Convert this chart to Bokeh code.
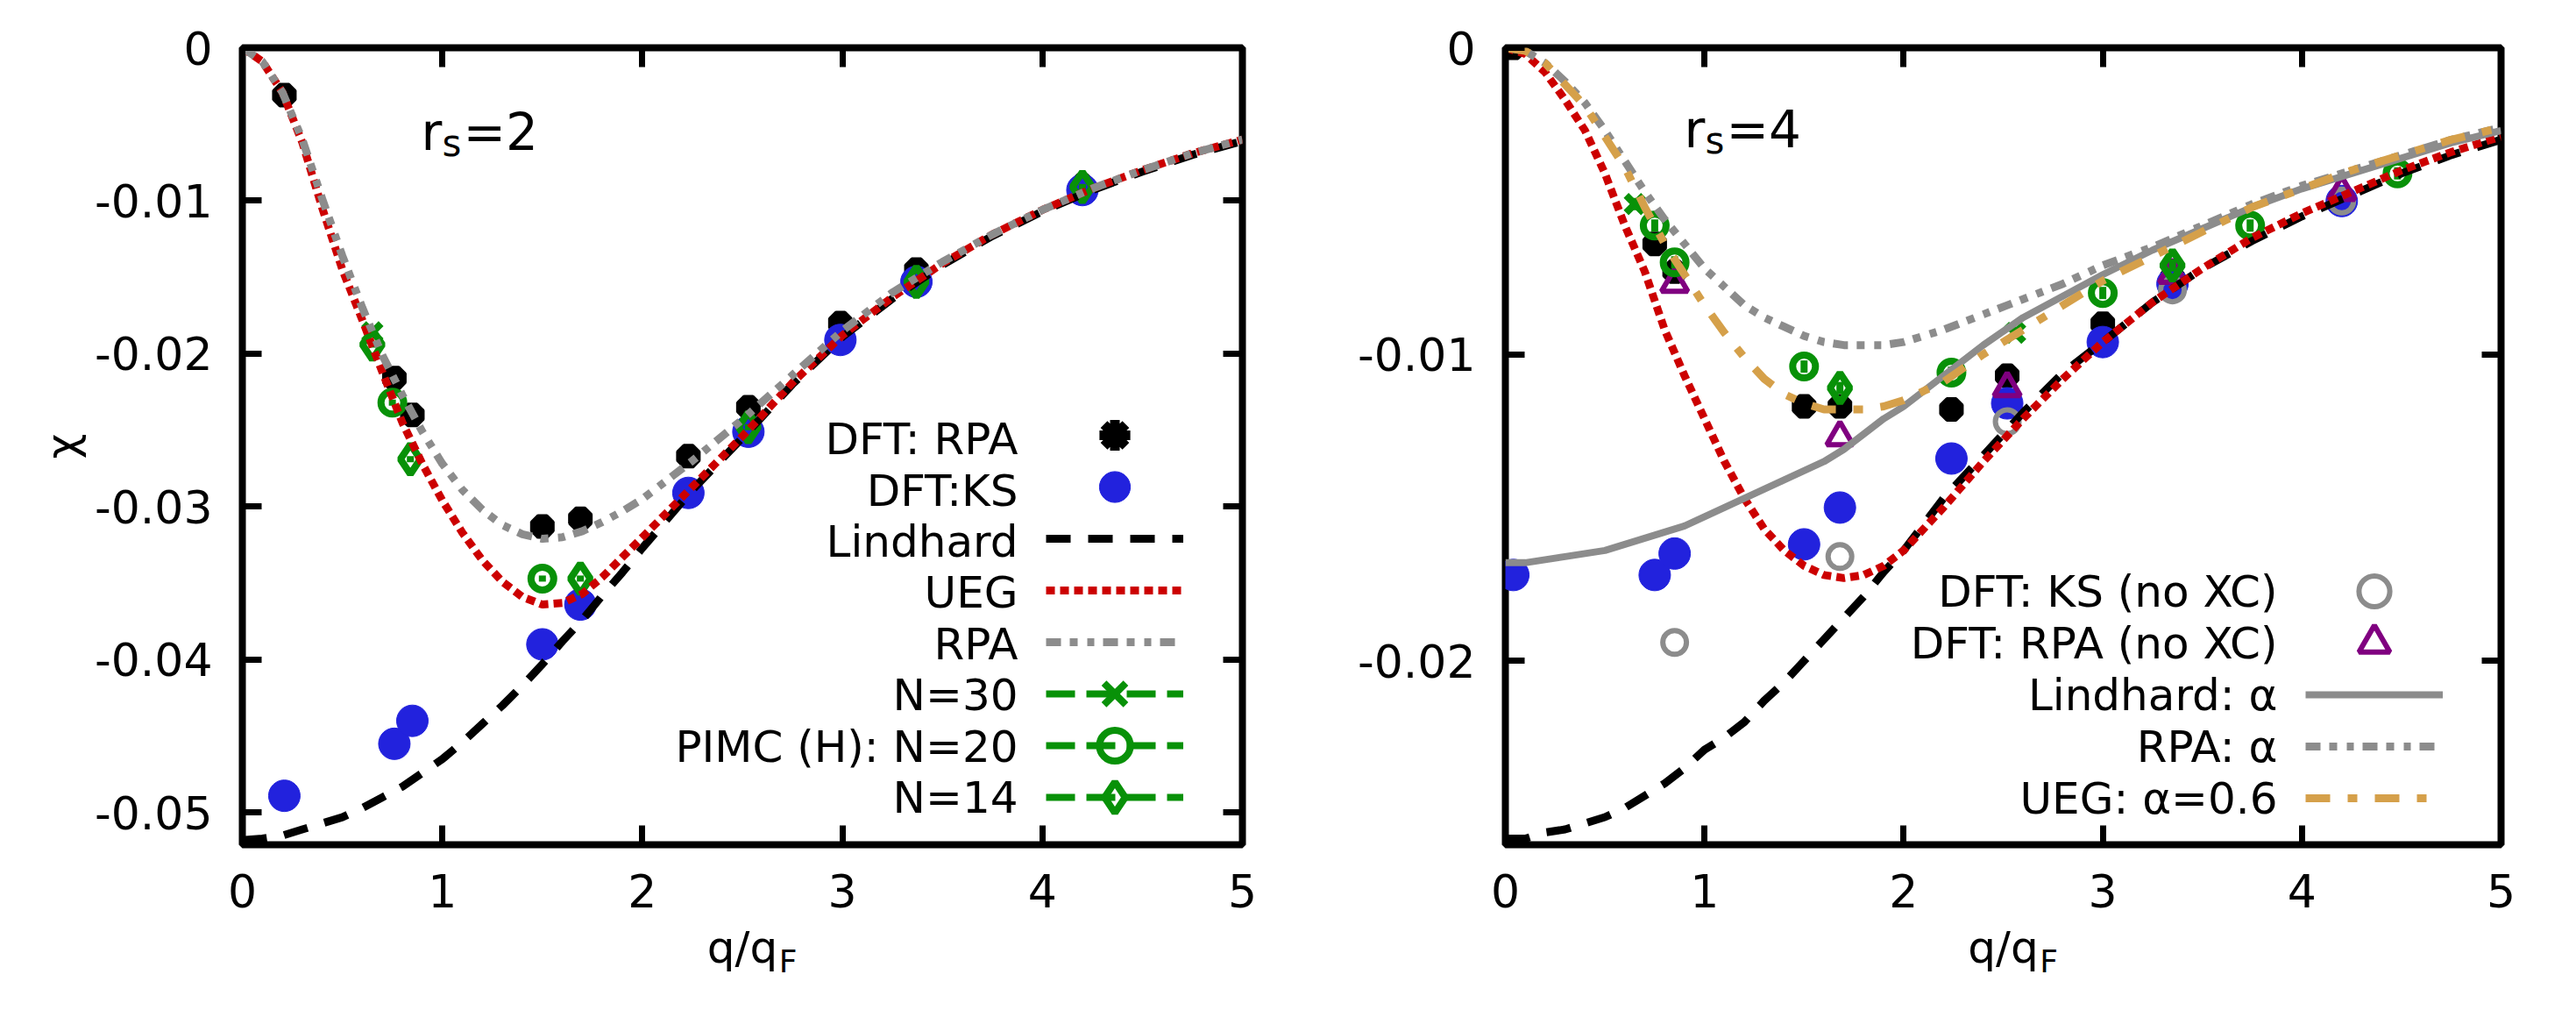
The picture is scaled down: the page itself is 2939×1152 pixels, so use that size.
import math
from bokeh.plotting import figure
from bokeh.models import (Range1d, LinearAxis, FixedTicker, Legend, LegendItem, Label, Title,
                          CustomJSTickFormatter)
from bokeh.layouts import row
from bokeh.embed import file_html
from bokeh.resources import INLINE
from bokeh.core.properties import value

FONT = "DejaVu Sans"

# ======================= r_s = 2 (left panel) =======================
q_curve_rs2 = [0, 0.1, 0.2, 0.3, 0.4, 0.5, 0.6, 0.7, 0.8, 0.9, 1.0, 1.1, 1.2, 1.3, 1.4, 1.5,
               1.6, 1.7, 1.8, 1.9, 2.0, 2.25, 2.5, 2.75, 3.0, 3.25, 3.5, 3.75, 4.0, 4.25, 4.5, 4.75, 5.0]
lindhard_rs2 = [-0.0518, -0.0517, -0.0515, -0.0511, -0.0507, -0.0503, -0.0497, -0.0490, -0.0483, -0.0474,
                -0.0465, -0.0454, -0.0442, -0.0430, -0.0417, -0.0403, -0.0388, -0.0374, -0.0358, -0.0343,
                -0.0327, -0.0289, -0.0255, -0.0220, -0.0189, -0.0164, -0.0142, -0.0123, -0.0107, -0.0093,
                -0.0081, -0.0070, -0.0061]
ueg_rs2 = [0.0, -0.0009, -0.0029, -0.0062, -0.0105, -0.0145, -0.0178, -0.0212, -0.0245, -0.0272,
           -0.0296, -0.0317, -0.0335, -0.0349, -0.0359, -0.0364, -0.0363, -0.0357, -0.0346, -0.0333,
           -0.0320, -0.0287, -0.0254, -0.0219, -0.0188, -0.0163, -0.0141, -0.0122, -0.0106, -0.0092,
           -0.0080, -0.0069, -0.0060]
rpa_rs2 = [0.0, -0.0009, -0.0029, -0.0060, -0.0099, -0.0136, -0.0170, -0.0201, -0.0227, -0.0251,
           -0.0272, -0.0289, -0.0302, -0.0312, -0.0318, -0.0321, -0.0320, -0.0316, -0.0310, -0.0303,
           -0.0295, -0.0270, -0.0243, -0.0214, -0.0185, -0.0160, -0.0140, -0.0122, -0.0106, -0.0092,
           -0.0080, -0.0069, -0.0060]

q_dft_rs2 = [0.21, 0.76, 0.85, 1.50, 1.69, 2.23, 2.53, 2.99, 3.37, 4.20]
dft_rpa_rs2 = [-0.0031, -0.0216, -0.0240, -0.0313, -0.0308, -0.0267, -0.0235, -0.0180, -0.0145, -0.0090]
dft_ks_rs2 = [-0.0489, -0.0455, -0.0440, -0.0390, -0.0364, -0.0291, -0.0251, -0.0191, -0.0153, -0.0093]

q_n30_rs2 = [0.65]
pimc_n30_rs2 = [-0.0186]
q_n20_rs2 = [0.75, 1.50]
pimc_n20_rs2 = [-0.0232, -0.0347]
q_n14_rs2 = [0.65, 0.84, 1.69, 2.53, 3.37, 4.20]
pimc_n14_rs2 = [-0.0194, -0.0269, -0.0347, -0.0248, -0.0153, -0.0091]
pimc_err = 0.0002

# ======================= r_s = 4 (right panel) =======================
q_curve_rs4 = [0, 0.1, 0.2, 0.3, 0.4, 0.5, 0.6, 0.7, 0.8, 0.9, 1.0, 1.1, 1.2, 1.3, 1.4, 1.5, 1.6,
               1.7, 1.8, 1.9, 2.0, 2.2, 2.4, 2.6, 2.8, 3.0, 3.25, 3.5, 3.75, 4.0, 4.25, 4.5, 4.75, 5.0]
lindhard_rs4 = [-0.0258, -0.0258, -0.0256, -0.0255, -0.0253, -0.0251, -0.0248, -0.0244, -0.0240, -0.0235,
                -0.0229, -0.0225, -0.0220, -0.0213, -0.0207, -0.0200, -0.0193, -0.0186, -0.0179, -0.0171,
                -0.0164, -0.0147, -0.0133, -0.0119, -0.0106, -0.0096, -0.0083, -0.0072, -0.0063, -0.0055,
                -0.0048, -0.0041, -0.0035, -0.0030]
ueg_rs4 = [0.0, -0.0002, -0.0008, -0.0017, -0.0027, -0.0041, -0.0058, -0.0073, -0.0092, -0.0107,
           -0.0121, -0.0135, -0.0147, -0.0157, -0.0164, -0.0169, -0.0172, -0.0173, -0.0172, -0.0169,
           -0.0164, -0.0150, -0.0135, -0.0121, -0.0108, -0.0096, -0.0083, -0.0072, -0.0062, -0.0054,
           -0.0047, -0.0040, -0.0034, -0.0029]
lindhard_alpha_rs4 = [-0.0168, -0.0168, -0.0167, -0.0166, -0.0165, -0.0164, -0.0162, -0.0160, -0.0158, -0.0156,
                      -0.0153, -0.0150, -0.0147, -0.0144, -0.0141, -0.0138, -0.0135, -0.0131, -0.0126, -0.0121,
                      -0.0117, -0.0107, -0.0097, -0.0088, -0.0081, -0.0074, -0.0066, -0.0059, -0.0052, -0.0046,
                      -0.0041, -0.0036, -0.0031, -0.0027]
rpa_alpha_rs4 = [0.0, -0.0001, -0.0005, -0.0011, -0.0018, -0.0027, -0.0037, -0.0047, -0.0056, -0.0064,
                 -0.0072, -0.0078, -0.0084, -0.0088, -0.0091, -0.0094, -0.0096, -0.0097, -0.0097, -0.0097,
                 -0.0096, -0.0092, -0.0087, -0.0082, -0.0077, -0.0071, -0.0065, -0.0058, -0.0051, -0.0045,
                 -0.0040, -0.0035, -0.0030, -0.0026]
ueg_alpha_rs4 = [0.0, -0.0001, -0.0005, -0.0012, -0.0019, -0.0029, -0.0039, -0.0052, -0.0064, -0.0074,
                 -0.0084, -0.0093, -0.0101, -0.0108, -0.0113, -0.0116, -0.0118, -0.0118, -0.0118, -0.0117,
                 -0.0115, -0.0109, -0.0100, -0.0092, -0.0084, -0.0076, -0.0068, -0.0060, -0.0052, -0.0046,
                 -0.0040, -0.0035, -0.0030, -0.0026]

q_dft_rs4 = [0.04, 0.75, 0.85, 1.50, 1.68, 2.24, 2.52, 3.00, 3.35, 4.20]
dft_rpa_rs4 = [0.0, -0.0064, -0.0073, -0.0117, -0.0117, -0.0118, -0.0107, -0.0090, -0.0075, -0.0049]
dft_ks_rs4 = [-0.0172, -0.0172, -0.0165, -0.0162, -0.0150, -0.0134, -0.0116, -0.0096, -0.0077, -0.0050]
q_noxc_rs4 = [0.85, 1.68, 2.52, 3.35, 4.20]
dft_ks_noxc_rs4 = [-0.0194, -0.0166, -0.0122, -0.0079, -0.0050]
dft_rpa_noxc_rs4 = [-0.0077, -0.0127, -0.0111, -0.0074, -0.0047]

q_n30_rs4 = [0.65, 2.56]
pimc_n30_rs4 = [-0.0051, -0.0093]
q_n20_rs4 = [0.75, 0.85, 1.50, 2.24, 3.00, 3.74, 4.48]
pimc_n20_rs4 = [-0.0058, -0.0070, -0.0104, -0.0106, -0.0080, -0.0058, -0.0041]
q_n14_rs4 = [1.68, 3.35]
pimc_n14_rs4 = [-0.0111, -0.0071]

x_ticks = [0, 1, 2, 3, 4, 5]
y_ticks_rs2 = [0, -0.01, -0.02, -0.03, -0.04, -0.05]
y_tick_labels_rs2 = ["0", "-0.01", "-0.02", "-0.03", "-0.04", "-0.05"]
y_ticks_rs4 = [0, -0.01, -0.02]
y_tick_labels_rs4 = ["0", "-0.01", "-0.02"]

labels_rs2 = ["DFT: RPA", "DFT:KS", "Lindhard", "UEG", "RPA", "N=30", "PIMC (H): N=20", "N=14"]
labels_rs4 = ["DFT: KS (no XC)", "DFT: RPA (no XC)", "Lindhard: \u03b1", "RPA: \u03b1", "UEG: \u03b1=0.6"]

# ======================= styles =======================
BLACK = "black"
BLUE = "#2222dd"
RED = "#cc0000"
GRAY = "#8c8c8c"
GREEN = "#089108"
PURPLE = "#800080"
ORANGE = "#d5a04a"
LW = 9
TXT = 50
TICK_TXT = 52
SUB_TXT = 36

ROW = 59
GH = 88
GW = 157
PAGE_MARGIN = 8
FIG_H = 1136


def style_axis(ax, ticks, show, standoff, overrides=None):
    ax.ticker = FixedTicker(ticks=ticks)
    ax.axis_line_color = None
    ax.major_tick_in = 22
    ax.major_tick_out = 0
    ax.major_tick_line_width = 7
    ax.major_tick_line_color = "black"
    ax.minor_tick_line_color = None
    ax.major_label_text_font = FONT
    ax.major_label_standoff = standoff
    if show:
        ax.major_label_text_font_size = f"{TICK_TXT}px"
        ax.major_label_text_color = "black"
    else:
        ax.major_label_text_color = None
        ax.major_label_text_font_size = "1px"
    if overrides:
        ax.major_label_overrides = overrides


def make_panel(fl, ft, fw, fh, ymin, bl, br, yticks, ylabels):
    bt = ft - PAGE_MARGIN
    bb = FIG_H - bt - fh
    p = figure(width=bl + fw + br, height=FIG_H,
               x_range=Range1d(0, 5), y_range=Range1d(ymin, 0),
               min_border_left=bl, min_border_right=br, min_border_top=bt, min_border_bottom=bb,
               output_backend="svg", toolbar_location=None, tools="")
    p.grid.visible = False
    p.outline_line_color = "black"
    p.outline_line_width = 8
    p.background_fill_color = "white"
    p.border_fill_color = "white"
    ov = {t: l for t, l in zip(yticks, ylabels)}
    bottom = p.below[0]
    style_axis(bottom, x_ticks, True, 33)
    style_axis(p.left[0], yticks, True, 34, ov)
    top = LinearAxis()
    style_axis(top, x_ticks, False, 0)
    p.add_layout(top, "above")
    right = LinearAxis()
    style_axis(right, yticks, False, 0)
    p.add_layout(right, "right")

    # x-axis title "q/q" with subscript "F"
    bottom.axis_label = "q/q"
    bottom.axis_label_text_font = FONT
    bottom.axis_label_text_font_size = f"{TXT}px"
    bottom.axis_label_text_font_style = "normal"
    bottom.axis_label_text_color = "black"
    bottom.axis_label_standoff = 14
    x_sub = 2.5 + 52.0 / fw * 5.0
    sub = LinearAxis(ticker=FixedTicker(ticks=[x_sub]),
                     formatter=CustomJSTickFormatter(code="return 'F'"))
    sub.axis_line_color = None
    sub.major_tick_line_color = None
    sub.minor_tick_line_color = None
    sub.major_tick_in = 0
    sub.major_tick_out = 0
    sub.major_label_standoff = -37
    sub.major_label_text_font = FONT
    sub.major_label_text_font_size = f"{SUB_TXT}px"
    sub.major_label_text_color = "black"
    p.add_layout(sub, "below")

    def conv(px, py):
        return (px - fl) / fw * 5.0, ymin * (py - ft) / fh
    return p, conv


def add_text(p, conv, text, px, py, size, align="left", baseline="alphabetic", angle=0.0):
    x, y = conv(px, py)
    p.add_layout(Label(x=x, y=y, text=text, text_font=FONT, text_font_size=f"{size}px",
                       text_align=align, text_baseline=baseline, angle=angle, text_color="black"))


def add_legend(p, conv, fl, ft, fh, items, labels, leg_x, top_px):
    frame_bottom = ft + fh
    gap = 2 * ROW - GH
    for start in (0, 1):
        its = items[start::2]
        n = len(its)
        if n == 0:
            continue
        h = n * GH + (n - 1) * gap
        top = top_px + start * ROW
        leg = Legend(items=[LegendItem(label=value(" "), renderers=r) for r in its],
                     location=(leg_x, frame_bottom - (top + h)), orientation="vertical",
                     padding=0, margin=0, spacing=gap,
                     glyph_width=GW, glyph_height=GH, label_height=GH, label_width=0,
                     label_standoff=0, label_text_font_size="1px", label_text_color=None,
                     border_line_color=None, background_fill_alpha=0)
        p.add_layout(leg)
    for i, lab in enumerate(labels):
        add_text(p, conv, lab, fl + leg_x - 32, top_px + GH / 2 + ROW * i, TXT,
                 align="right", baseline="middle")


def pimc(p, q, v, marker, size):
    seg = p.segment(x0=q, y0=[a - pimc_err for a in v], x1=q, y1=[a + pimc_err for a in v],
                    line_color=GREEN, line_width=8, line_dash="33 13")
    sc = p.scatter(q, v, marker=marker, size=size, line_color=GREEN, fill_color=None, line_width=8)
    return [seg, sc]


# ======================= left panel =======================
FL1, FT1, FW1, FH1, YMIN1 = 284, 53, 1141, 918, -0.0521
BR1 = 75
p1, c1 = make_panel(FL1, FT1, FW1, FH1, YMIN1, FL1 - PAGE_MARGIN, BR1, y_ticks_rs2, y_tick_labels_rs2)

r_dftrpa = p1.scatter(q_dft_rs2, dft_rpa_rs2, marker="asterisk", size=28, line_color=BLACK, line_width=11)
r_ks = p1.scatter(q_dft_rs2, dft_ks_rs2, marker="circle", size=36, line_color=BLUE, fill_color=BLUE, line_width=1)
r_n30 = pimc(p1, q_n30_rs2, pimc_n30_rs2, "x", 28)
r_n20 = pimc(p1, q_n20_rs2, pimc_n20_rs2, "circle", 26)
r_n14 = pimc(p1, q_n14_rs2, pimc_n14_rs2, "diamond", 34)
r_lind = p1.line(q_curve_rs2, lindhard_rs2, line_color=BLACK, line_width=LW, line_dash="28 20")
r_ueg = p1.line(q_curve_rs2, ueg_rs2, line_color=RED, line_width=LW, line_dash="10 6")
r_rpa = p1.line(q_curve_rs2, rpa_rs2, line_color=GRAY, line_width=LW, line_dash="17 10 9 11 8 10")

add_legend(p1, c1, FL1, FT1, FH1,
           [[r_dftrpa], [r_ks], [r_lind], [r_ueg], [r_rpa], r_n30, r_n20, r_n14],
           labels_rs2, 917, 460)

add_text(p1, c1, "r", 488, 150, 58)
add_text(p1, c1, "s", 512, 163, 42)
add_text(p1, c1, "=2", 536, 150, 58)
p1.add_layout(Title(text="\u03c7", align="center", offset=-53, standoff=10, text_font=FONT,
                    text_font_size=f"{TXT}px", text_font_style="normal", text_color="black"), "left")

# ======================= right panel =======================
FIG2_LEFT = FL1 + FW1 + BR1
FL2, FT2, FW2, FH2, YMIN2 = 1725, 62, 1136, 909, -0.026
p2, c2 = make_panel(FL2, FT2, FW2, FH2, YMIN2, FL2 - FIG2_LEFT, 66, y_ticks_rs4, y_tick_labels_rs4)

p2.scatter(q_dft_rs4, dft_rpa_rs4, marker="asterisk", size=28, line_color=BLACK, line_width=11)
p2.scatter(q_dft_rs4, dft_ks_rs4, marker="circle", size=36, line_color=BLUE, fill_color=BLUE, line_width=1)
r_ksnx = p2.scatter(q_noxc_rs4, dft_ks_noxc_rs4, marker="circle", size=27, line_color=GRAY,
                    fill_color=None, line_width=6)
r_rpanx = p2.scatter(q_noxc_rs4, dft_rpa_noxc_rs4, marker="triangle", size=30, line_color=PURPLE,
                     fill_color=None, line_width=6)
pimc(p2, q_n30_rs4, pimc_n30_rs4, "x", 28)
pimc(p2, q_n20_rs4, pimc_n20_rs4, "circle", 26)
pimc(p2, q_n14_rs4, pimc_n14_rs4, "diamond", 34)
p2.line(q_curve_rs4, lindhard_rs4, line_color=BLACK, line_width=LW, line_dash="28 20")
p2.line(q_curve_rs4, ueg_rs4, line_color=RED, line_width=LW, line_dash="10 6")
r_la = p2.line(q_curve_rs4, lindhard_alpha_rs4, line_color=GRAY, line_width=8)
r_ra = p2.line(q_curve_rs4, rpa_alpha_rs4, line_color=GRAY, line_width=LW, line_dash="17 10 9 11 8 10")
r_ua = p2.line(q_curve_rs4, ueg_alpha_rs4, line_color=ORANGE, line_width=LW, line_dash="28 20 11 20")

add_legend(p2, c2, FL2, FT2, FH2, [[r_ksnx], [r_rpanx], [r_la], [r_ra], [r_ua]],
           labels_rs4, 913, 638)

add_text(p2, c2, "r", 1929, 155, 58)
add_text(p2, c2, "s", 1953, 168, 42)
add_text(p2, c2, "=4", 1977, 155, 58)

layout = row(p1, p2)
open("out.html", "w").write(file_html(layout, INLINE))
